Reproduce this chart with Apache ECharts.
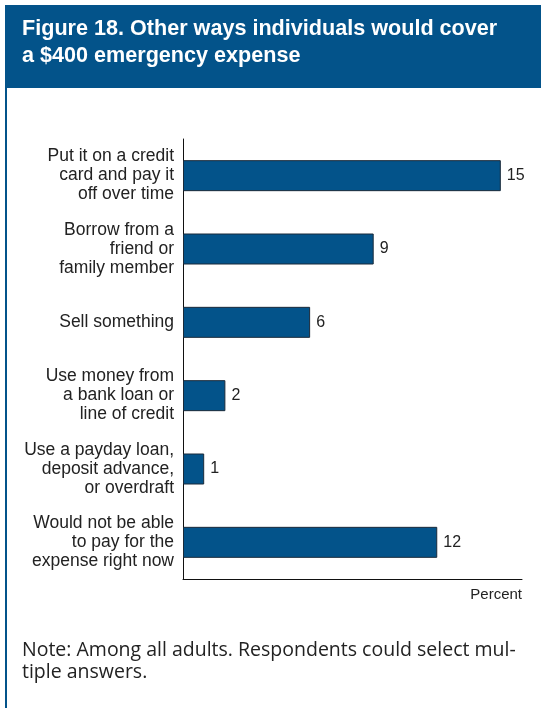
<!DOCTYPE html>
<html>
<head>
<meta charset="utf-8">
<script src="https://cdn.jsdelivr.net/npm/echarts@6/dist/echarts.min.js"></script>
<style>
  html, body { margin: 0; padding: 0; background: #ffffff; }
  #chart { width: 541px; height: 708px; }
</style>
</head>
<body>
<div id="chart"></div>
<script>
// Ways to cover a $400 emergency expense (percent of all adults)
const categories = [
  'Put it on a credit\ncard and pay it\noff over time',
  'Borrow from a\nfriend or\nfamily member',
  'Sell something',
  'Use money from\na bank loan or\nline of credit',
  'Use a payday loan,\ndeposit advance,\nor overdraft',
  'Would not be able\nto pay for the\nexpense right now'
];
const percents = [15, 9, 6, 2, 1, 12];
const xMax = 16;

const blue = '#03538a';
const labelFont = '"Liberation Sans", Arial, sans-serif';

const chart = echarts.init(document.getElementById('chart'), null, { renderer: 'canvas' });

chart.setOption({
  animation: false,
  backgroundColor: '#ffffff',
  title: {
    text: 'Figure 18. Other ways individuals would cover\na $400 emergency expense',
    left: 22,
    top: 16,
    padding: 0,
    textStyle: {
      color: '#ffffff',
      fontFamily: '"Liberation Sans", Arial, sans-serif',
      fontWeight: 'bold',
      fontSize: 21.6,
      lineHeight: 27
    }
  },
  graphic: [
    {
      type: 'rect',
      z: -1,
      shape: { x: 5, y: 5, width: 536, height: 83 },
      style: { fill: blue }
    },
    {
      type: 'rect',
      z: -1,
      shape: { x: 5, y: 88, width: 2, height: 620 },
      style: { fill: blue }
    },
    {
      type: 'text',
      left: 22,
      top: 639,
      style: {
        text: 'Note: Among all adults. Respondents could select mul-\ntiple answers.',
        fill: '#222222',
        font: '19.5px "Open Sans", "Liberation Sans", Arial, sans-serif',
        lineHeight: 22
      }
    }
  ],
  grid: {
    left: 183,
    top: 139,
    width: 339,
    height: 440,
    containLabel: false
  },
  xAxis: {
    type: 'value',
    min: 0,
    max: xMax,
    name: 'Percent',
    nameLocation: 'end',
    nameGap: 0,
    nameTextStyle: {
      color: '#222222',
      fontFamily: labelFont,
      fontSize: 15,
      align: 'right',
      verticalAlign: 'top',
      padding: [8, 0, 0, 0]
    },
    axisLine: { show: true, lineStyle: { color: '#111111', width: 1 } },
    axisTick: { show: false },
    axisLabel: { show: false },
    splitLine: { show: false }
  },
  yAxis: {
    type: 'category',
    data: categories,
    inverse: true,
    axisLine: { show: true, lineStyle: { color: '#111111', width: 1 } },
    axisTick: { show: false },
    axisLabel: {
      margin: 9,
      color: '#222222',
      fontFamily: labelFont,
      fontSize: 17.5,
      lineHeight: 19,
      align: 'right'
    }
  },
  series: [
    {
      type: 'bar',
      data: percents,
      barWidth: 31,
      itemStyle: {
        color: blue,
        borderColor: '#1a2a3a',
        borderWidth: 1
      },
      label: {
        show: true,
        position: 'right',
        distance: 6,
        color: '#222222',
        fontFamily: labelFont,
        fontSize: 16
      }
    }
  ]
});
</script>
</body>
</html>
